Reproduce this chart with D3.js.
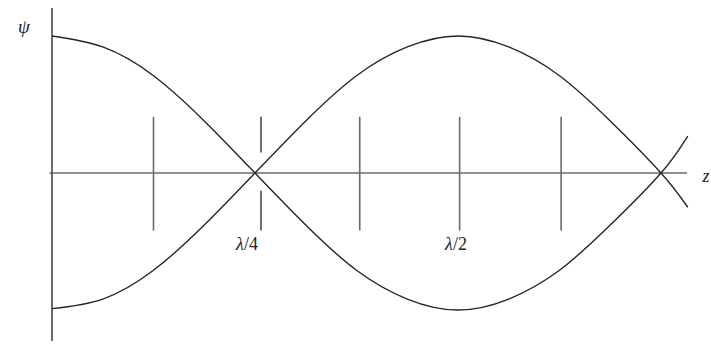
<!DOCTYPE html>
<html>
<head>
<meta charset="utf-8">
<script src="https://cdn.jsdelivr.net/npm/d3@7/dist/d3.min.js"></script>
<style>
  html, body { margin: 0; padding: 0; background: #fff; }
  svg { display: block; }
  text { font-family: "Liberation Serif", "DejaVu Serif", serif; fill: #222; }
</style>
</head>
<body>
<svg id="chart" width="711" height="345"></svg>
<script>
// Positions along z, in units of the wavelength λ
const zSamples = [0, 0.0625, 0.125, 0.1875, 0.25, 0.3125, 0.375, 0.4375, 0.5,
                  0.5625, 0.625, 0.6875, 0.75, 0.783];
// Upper standing-wave envelope ψ (normalised), starting at a crest
const psiUpper = [1, 0.92, 0.71, 0.38, 0, -0.38, -0.71, -0.92, -1,
                  -0.92, -0.71, -0.38, 0, 0.27];
// Lower envelope, starting at a trough
const psiLower = [-0.99, -0.92, -0.71, -0.38, 0, 0.38, 0.71, 0.92, 1,
                  0.92, 0.71, 0.38, 0, -0.25];
// Vertical markers along z
const markerZ = [0.125, 0.25, 0.379, 0.502, 0.627];
// Labelled markers
const labelZ = [0.25, 0.5];
const labelText = ["λ/4", "λ/2"];

const svg = d3.select("#chart");

const x = d3.scaleLinear().domain([0, 1]).range([52, 864]);
const y = d3.scaleLinear().domain([-1, 1]).range([310, 36]);

const axisColor = "#6a6a6a";
const curveColor = "#262626";

// Horizontal z axis
svg.append("line")
  .attr("x1", x(-0.003)).attr("x2", x(0.782))
  .attr("y1", y(0)).attr("y2", y(0))
  .attr("stroke", axisColor).attr("stroke-width", 1.6);

// Vertical ψ axis
svg.append("line")
  .attr("x1", x(0)).attr("x2", x(0))
  .attr("y1", 8).attr("y2", 341)
  .attr("stroke", "#444").attr("stroke-width", 1.6);

// Markers; the λ/4 one leaves a gap where the envelopes cross
const markerTop = y(0.41), markerBot = y(-0.42);
markerZ.forEach(z => {
  if (z === 0.25) {
    [[markerTop, y(0.15)], [y(-0.13), markerBot]].forEach(([a, b]) => {
      svg.append("line")
        .attr("x1", x(z) + 6).attr("x2", x(z) + 6)
        .attr("y1", a).attr("y2", b)
        .attr("stroke", "#333").attr("stroke-width", 1.4);
    });
  } else {
    svg.append("line")
      .attr("x1", x(z)).attr("x2", x(z))
      .attr("y1", markerTop).attr("y2", markerBot)
      .attr("stroke", axisColor).attr("stroke-width", 1.6);
  }
});

// Envelope curves
const line = d3.line()
  .x((d, i) => x(zSamples[i]))
  .y(d => y(d))
  .curve(d3.curveNatural);

[psiUpper, psiLower].forEach(series => {
  svg.append("path")
    .attr("d", line(series))
    .attr("fill", "none")
    .attr("stroke", curveColor)
    .attr("stroke-width", 1.4);
});

// Marker labels
labelZ.forEach((z, i) => {
  const t = svg.append("text")
    .attr("x", x(z) + (i === 0 ? -8 : -2))
    .attr("y", 250)
    .attr("text-anchor", "middle")
    .attr("font-size", 18);
  const parts = labelText[i].split("/");
  t.append("tspan").attr("font-style", "italic").text(parts[0]);
  t.append("tspan").text("/" + parts[1]);
});

// Axis names
svg.append("text")
  .attr("x", 24).attr("y", 33)
  .attr("text-anchor", "middle")
  .attr("font-size", 19)
  .attr("font-style", "italic")
  .text("ψ");

svg.append("text")
  .attr("x", 706).attr("y", 182)
  .attr("text-anchor", "middle")
  .attr("font-size", 18)
  .attr("font-style", "italic")
  .text("z");
</script>
</body>
</html>
